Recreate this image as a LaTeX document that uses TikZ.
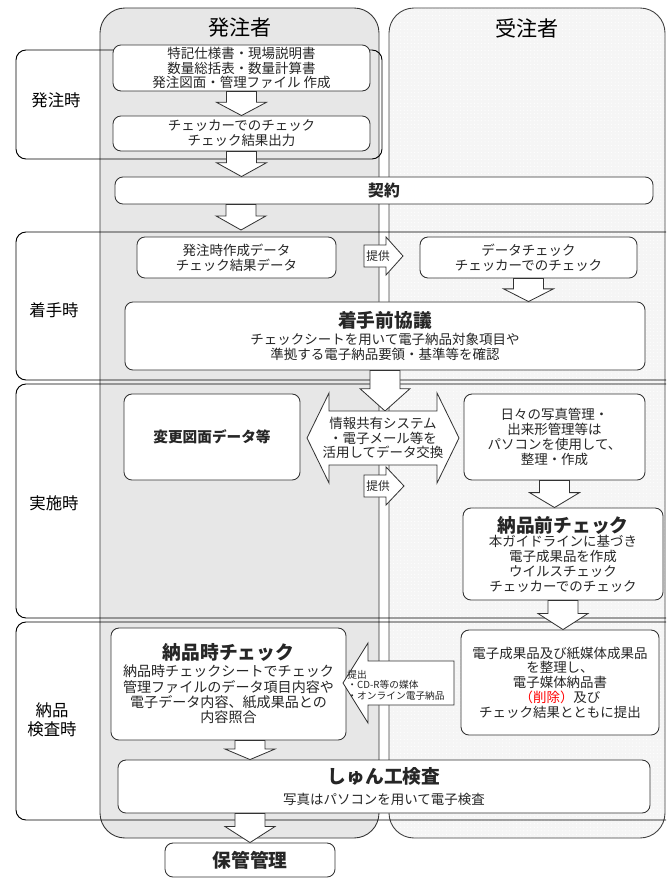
\documentclass[tikz,border=0pt]{standalone}
\usepackage{fontspec}
\setmainfont{Noto Sans CJK JP}
\usepackage{xcolor}
\usepackage{tikz}
\usetikzlibrary{calc,patterns}
\tikzset{every picture/.style={line width=0.75pt}}

\newcommand\boxtitle{\fontsize{16}{18}\selectfont\bfseries}
\newcommand\dnarrow[2]{%
\draw[blockarrow] let \p1=#1, \p2=#2, \p3=($#1!0.45!#2$) in
 (\x1-12.8pt,\y1) -- (\x1+12.8pt,\y1) -- (\x1+12.8pt,\y3) -- (\x1+21.3pt,\y3)
 -- (\x1,\y2) -- (\x1-21.3pt,\y3) -- (\x1-12.8pt,\y3) -- cycle;}

\begin{document}
\begin{tikzpicture}[x=0.03cm,y=-0.03cm,
  box/.style={draw=black!80,fill=white,rounded corners=0.24cm,align=center,
    text=black!85,font=\fontsize{11.5}{12.6}\selectfont,inner sep=1pt},
  blockarrow/.style={draw=black!80,fill=white,line width=0.7pt},
  phase/.style={draw=black,line width=0.8pt,rounded corners=0.3cm},
  phasetxt/.style={font=\fontsize{14}{16}\selectfont,align=center},
  txt/.style={font=\fontsize{11.5}{12.6}\selectfont,align=center,text=black!85}]
\useasboundingbox (0,0) rectangle (666,880);
\clip (0,0) rectangle (666,880);
%
% columns
\draw[black!80,fill=gray!19,rounded corners=0.75cm] (100,8) rectangle (379,838);
\fill[gray!8,rounded corners=0.75cm] (389,8) rectangle (665,838);
\fill[pattern=dots,pattern color=white,rounded corners=0.75cm] (389,8) rectangle (665,838);
\draw[black!75,rounded corners=0.75cm] (389,8) rectangle (665,838);
\node[font=\fontsize{18}{20}\selectfont] (h1) at (240,28) {発注者};
\node[font=\fontsize{18}{20}\selectfont] (h2) at (527,28) {受注者};
%
% phases
\draw[phase] (16,50) rectangle (382,159);
\node[phasetxt] (p1) at (56,100) {発注時};
\draw[phase] (16,232) rectangle (700,380);
\node[phasetxt] (p2) at (54,310) {着手時};
\draw[phase] (16,384) rectangle (700,618);
\node[phasetxt] (p3) at (54,503) {実施時};
\draw[phase] (16,622) rectangle (700,820);
\node[phasetxt] (p4) at (52,720) {納品\\検査時};
%
% boxes
\node[box,minimum width=7.71cm,minimum height=1.38cm] (a1) at (241.5,68) {特記仕様書・現場説明書\\数量総括表・数量計算書\\発注図面・管理ファイル 作成};
\node[box,minimum width=7.71cm,minimum height=1.05cm] (a2) at (241.5,133.5) {チェッカーでのチェック\\チェック結果出力};
\node[box,minimum width=16.14cm,minimum height=0.81cm,font=\fontsize{13.5}{15}\selectfont\bfseries] (c1) at (384,190.5) {契約};
\node[box,minimum width=5.97cm,minimum height=1.23cm] (a3) at (236.5,257.5) {発注時作成データ\\チェック結果データ};
\node[box,minimum width=6.51cm,minimum height=1.23cm] (b1) at (528.5,257.5) {データチェック\\チェッカーでのチェック};
\node[box,minimum width=15.6cm,minimum height=2.04cm] (c2) at (385,336) {{\boxtitle 着手前協議}\\[2pt]チェックシートを用いて電子納品対象項目や\\準拠する電子納品要領・基準等を確認};
\node[box,minimum width=5.28cm,minimum height=2.58cm,font=\fontsize{12.5}{14}\selectfont\bfseries] (a4) at (212,437) {変更図面データ等};
\node[box,minimum width=5.43cm,minimum height=2.58cm] (b2) at (554.5,437) {日々の写真管理・\\出来形管理等は\\パソコンを使用して、\\整理・作成};
\node[box,minimum width=6.0cm,minimum height=2.76cm] (b3) at (563,554) {{\boxtitle 納品前チェック}\\本ガイドラインに基づき\\電子成果品を作成\\ウイルスチェック\\チェッカーでのチェック};
\node[box,minimum width=7.05cm,minimum height=3.36cm,font=\fontsize{12}{13.2}\selectfont] (a5) at (228.5,684) {{\boxtitle 納品時チェック}\\[1pt]納品時チェックシートでチェック\\管理ファイルのデータ項目内容や\\電子データ内容、紙成果品との\\内容照合};
\node[box,minimum width=5.94cm,minimum height=3.15cm] (b4) at (560,682.5) {電子成果品及び紙媒体成果品\\を整理し、\\電子媒体納品書\\{\color{red}（削除）}及び\\チェック結果とともに提出};
\node[box,minimum width=15.96cm,minimum height=1.59cm] (c3) at (384,786.5) {{\boxtitle しゅん工検査}\\[5pt]写真はパソコンを用いて電子検査};
\node[box,minimum width=5.1cm,minimum height=1.02cm,font=\fontsize{16}{18}\selectfont\bfseries] (a6) at (250,860) {保管管理};
%
% arrows
\coordinate (e1) at (241,230);
\coordinate (sh) at (383,411);
\dnarrow{(a1.south)}{(a2.north)}
\dnarrow{(a2.south)}{(c1.north -| a2.south)}
\dnarrow{(c1.south -| e1)}{(e1)}
\dnarrow{(b1.south)}{(c2.north -| b1.south)}
\dnarrow{(c2.south)}{(sh)}
\dnarrow{(b2.south)}{(b3.north -| b2.south)}
\dnarrow{(b3.south)}{(b4.north -| b3.south)}
\dnarrow{(a5.south -| a6.north)}{(c3.north -| a6.north)}
\dnarrow{(c3.south -| a6.north)}{(a6.north)}
%
\draw[blockarrow] (364,245) -- (386,245) -- (386,237) -- (403,256) -- (386,275) -- (386,267) -- (364,267) -- cycle;
\node[txt,font=\fontsize{10}{11}\selectfont] (t1) at (378,256) {提供};
\draw[blockarrow] (307,438) -- (329,393) -- (329,411) -- (437,411) -- (437,393) -- (459,438) -- (437,483) -- (437,465) -- (329,465) -- (329,483) -- cycle;
\node[txt] (t2) at (383,438) {情報共有システム\\・電子メール等を\\活用してデータ交換};
\draw[blockarrow] (364,475) -- (386,475) -- (386,467) -- (404,486) -- (386,505) -- (386,497) -- (364,497) -- cycle;
\node[txt,font=\fontsize{10}{11}\selectfont] (t3) at (378,486) {提供};
\draw[blockarrow] (454,661) -- (368,661) -- (368,643) -- (343,683) -- (368,723) -- (368,705) -- (454,705) -- cycle;
\node[txt,font=\fontsize{8.3}{9}\selectfont,align=left,anchor=west,inner sep=0pt] (t4) at (347,685) {提出\\・CD-R等の媒体\\・オンライン電子納品};
\end{tikzpicture}
\end{document}
